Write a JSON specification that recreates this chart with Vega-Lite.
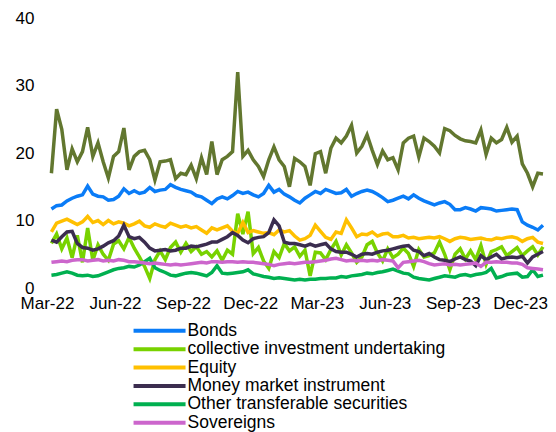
{
"$schema": "https://vega.github.io/schema/vega-lite/v6.json",
"width": 496, "height": 270,
"autosize": {"type": "none"},
"padding": {"left": 47, "top": 18, "right": 13, "bottom": 144},
"background": "white",
"config": {"view": {"stroke": null}, "font": "Liberation Sans"},
"datasets": {
"olive": [{"d":"2022-03-07","v":17.0},{"d":"2022-03-14","v":26.5},{"d":"2022-03-21","v":23.5},{"d":"2022-03-28","v":17.5},{"d":"2022-04-04","v":20.6},{"d":"2022-04-11","v":18.7},{"d":"2022-04-18","v":20.2},{"d":"2022-04-25","v":23.8},{"d":"2022-05-02","v":19.5},{"d":"2022-05-09","v":21.5},{"d":"2022-05-16","v":18.7},{"d":"2022-05-23","v":16.3},{"d":"2022-05-30","v":19.5},{"d":"2022-06-06","v":20.2},{"d":"2022-06-13","v":23.7},{"d":"2022-06-20","v":17.5},{"d":"2022-06-27","v":19.5},{"d":"2022-07-04","v":20.2},{"d":"2022-07-11","v":20.4},{"d":"2022-07-18","v":19.0},{"d":"2022-07-25","v":16.0},{"d":"2022-08-01","v":18.7},{"d":"2022-08-08","v":18.8},{"d":"2022-08-15","v":19.0},{"d":"2022-08-22","v":16.2},{"d":"2022-08-29","v":17.0},{"d":"2022-09-05","v":16.8},{"d":"2022-09-12","v":18.2},{"d":"2022-09-19","v":16.2},{"d":"2022-09-26","v":19.3},{"d":"2022-10-03","v":16.8},{"d":"2022-10-10","v":21.7},{"d":"2022-10-17","v":16.8},{"d":"2022-10-24","v":19.0},{"d":"2022-10-31","v":19.5},{"d":"2022-11-07","v":20.2},{"d":"2022-11-14","v":32.0},{"d":"2022-11-21","v":19.5},{"d":"2022-11-28","v":20.4},{"d":"2022-12-05","v":19.0},{"d":"2022-12-12","v":18.0},{"d":"2022-12-19","v":16.5},{"d":"2022-12-26","v":19.0},{"d":"2023-01-02","v":20.9},{"d":"2023-01-09","v":19.0},{"d":"2023-01-16","v":18.0},{"d":"2023-01-23","v":15.0},{"d":"2023-01-30","v":19.2},{"d":"2023-02-06","v":18.7},{"d":"2023-02-13","v":18.0},{"d":"2023-02-20","v":15.2},{"d":"2023-02-27","v":19.9},{"d":"2023-03-06","v":20.2},{"d":"2023-03-13","v":17.0},{"d":"2023-03-20","v":20.7},{"d":"2023-03-27","v":22.2},{"d":"2023-04-03","v":21.5},{"d":"2023-04-10","v":22.5},{"d":"2023-04-17","v":24.1},{"d":"2023-04-24","v":20.0},{"d":"2023-05-01","v":21.0},{"d":"2023-05-08","v":22.7},{"d":"2023-05-15","v":20.4},{"d":"2023-05-22","v":18.3},{"d":"2023-05-29","v":20.3},{"d":"2023-06-05","v":19.0},{"d":"2023-06-12","v":19.3},{"d":"2023-06-19","v":17.5},{"d":"2023-06-26","v":21.5},{"d":"2023-07-03","v":22.2},{"d":"2023-07-10","v":22.5},{"d":"2023-07-17","v":19.4},{"d":"2023-07-24","v":22.2},{"d":"2023-07-31","v":21.7},{"d":"2023-08-07","v":21.0},{"d":"2023-08-14","v":20.0},{"d":"2023-08-21","v":23.6},{"d":"2023-08-28","v":23.3},{"d":"2023-09-04","v":22.6},{"d":"2023-09-11","v":22.1},{"d":"2023-09-18","v":21.8},{"d":"2023-09-25","v":21.7},{"d":"2023-10-02","v":21.5},{"d":"2023-10-09","v":23.4},{"d":"2023-10-16","v":19.8},{"d":"2023-10-23","v":22.2},{"d":"2023-10-30","v":21.5},{"d":"2023-11-06","v":22.0},{"d":"2023-11-13","v":23.8},{"d":"2023-11-20","v":21.6},{"d":"2023-11-27","v":22.5},{"d":"2023-12-04","v":18.4},{"d":"2023-12-11","v":17.0},{"d":"2023-12-18","v":15.0},{"d":"2023-12-25","v":17.0},{"d":"2024-01-01","v":16.9}],
"bonds": [{"d":"2022-03-07","v":11.7},{"d":"2022-03-14","v":12.2},{"d":"2022-03-21","v":12.3},{"d":"2022-03-28","v":12.9},{"d":"2022-04-04","v":13.3},{"d":"2022-04-11","v":13.6},{"d":"2022-04-18","v":13.8},{"d":"2022-04-25","v":15.1},{"d":"2022-05-02","v":13.9},{"d":"2022-05-09","v":13.6},{"d":"2022-05-16","v":13.5},{"d":"2022-05-23","v":13.0},{"d":"2022-05-30","v":13.1},{"d":"2022-06-06","v":13.6},{"d":"2022-06-13","v":14.7},{"d":"2022-06-20","v":14.0},{"d":"2022-06-27","v":14.4},{"d":"2022-07-04","v":14.0},{"d":"2022-07-11","v":14.2},{"d":"2022-07-18","v":14.9},{"d":"2022-07-25","v":14.3},{"d":"2022-08-01","v":14.5},{"d":"2022-08-08","v":14.6},{"d":"2022-08-15","v":15.3},{"d":"2022-08-22","v":14.9},{"d":"2022-08-29","v":14.6},{"d":"2022-09-05","v":14.4},{"d":"2022-09-12","v":14.2},{"d":"2022-09-19","v":13.7},{"d":"2022-09-26","v":13.5},{"d":"2022-10-03","v":13.0},{"d":"2022-10-10","v":12.5},{"d":"2022-10-17","v":13.2},{"d":"2022-10-24","v":13.5},{"d":"2022-10-31","v":13.2},{"d":"2022-11-07","v":13.7},{"d":"2022-11-14","v":14.3},{"d":"2022-11-21","v":14.0},{"d":"2022-11-28","v":14.2},{"d":"2022-12-05","v":13.8},{"d":"2022-12-12","v":13.5},{"d":"2022-12-19","v":14.0},{"d":"2022-12-26","v":15.2},{"d":"2023-01-02","v":14.2},{"d":"2023-01-09","v":14.6},{"d":"2023-01-16","v":13.9},{"d":"2023-01-23","v":13.5},{"d":"2023-01-30","v":13.0},{"d":"2023-02-06","v":12.6},{"d":"2023-02-13","v":13.3},{"d":"2023-02-20","v":13.8},{"d":"2023-02-27","v":14.3},{"d":"2023-03-06","v":14.0},{"d":"2023-03-13","v":14.6},{"d":"2023-03-20","v":14.3},{"d":"2023-03-27","v":14.0},{"d":"2023-04-03","v":14.1},{"d":"2023-04-10","v":14.6},{"d":"2023-04-17","v":13.6},{"d":"2023-04-24","v":14.0},{"d":"2023-05-01","v":14.3},{"d":"2023-05-08","v":14.5},{"d":"2023-05-15","v":14.3},{"d":"2023-05-22","v":13.9},{"d":"2023-05-29","v":13.4},{"d":"2023-06-05","v":12.8},{"d":"2023-06-12","v":13.0},{"d":"2023-06-19","v":13.3},{"d":"2023-06-26","v":13.6},{"d":"2023-07-03","v":13.2},{"d":"2023-07-10","v":13.8},{"d":"2023-07-17","v":13.3},{"d":"2023-07-24","v":12.9},{"d":"2023-07-31","v":12.6},{"d":"2023-08-07","v":12.3},{"d":"2023-08-14","v":12.6},{"d":"2023-08-21","v":12.8},{"d":"2023-08-28","v":12.4},{"d":"2023-09-04","v":11.6},{"d":"2023-09-11","v":11.6},{"d":"2023-09-18","v":11.9},{"d":"2023-09-25","v":11.7},{"d":"2023-10-02","v":11.4},{"d":"2023-10-09","v":11.9},{"d":"2023-10-16","v":11.8},{"d":"2023-10-23","v":11.7},{"d":"2023-10-30","v":11.4},{"d":"2023-11-06","v":11.5},{"d":"2023-11-13","v":11.6},{"d":"2023-11-20","v":11.7},{"d":"2023-11-27","v":11.6},{"d":"2023-12-04","v":9.8},{"d":"2023-12-11","v":9.3},{"d":"2023-12-18","v":9.0},{"d":"2023-12-25","v":8.6},{"d":"2024-01-01","v":9.3}],
"ciu": [{"d":"2022-03-07","v":6.6},{"d":"2022-03-14","v":8.0},{"d":"2022-03-21","v":5.8},{"d":"2022-03-28","v":7.4},{"d":"2022-04-04","v":4.5},{"d":"2022-04-11","v":7.8},{"d":"2022-04-18","v":3.8},{"d":"2022-04-25","v":8.9},{"d":"2022-05-02","v":4.1},{"d":"2022-05-09","v":6.4},{"d":"2022-05-16","v":5.0},{"d":"2022-05-23","v":4.1},{"d":"2022-05-30","v":6.5},{"d":"2022-06-06","v":7.0},{"d":"2022-06-13","v":5.8},{"d":"2022-06-20","v":7.5},{"d":"2022-06-27","v":5.9},{"d":"2022-07-04","v":4.6},{"d":"2022-07-11","v":3.2},{"d":"2022-07-18","v":1.4},{"d":"2022-07-25","v":4.2},{"d":"2022-08-01","v":5.5},{"d":"2022-08-08","v":4.2},{"d":"2022-08-15","v":6.0},{"d":"2022-08-22","v":6.8},{"d":"2022-08-29","v":5.3},{"d":"2022-09-05","v":6.6},{"d":"2022-09-12","v":5.4},{"d":"2022-09-19","v":6.1},{"d":"2022-09-26","v":5.0},{"d":"2022-10-03","v":5.4},{"d":"2022-10-10","v":4.6},{"d":"2022-10-17","v":5.5},{"d":"2022-10-24","v":4.1},{"d":"2022-10-31","v":5.6},{"d":"2022-11-07","v":5.0},{"d":"2022-11-14","v":11.0},{"d":"2022-11-21","v":8.0},{"d":"2022-11-28","v":11.3},{"d":"2022-12-05","v":5.1},{"d":"2022-12-12","v":6.0},{"d":"2022-12-19","v":4.0},{"d":"2022-12-26","v":2.9},{"d":"2023-01-02","v":5.4},{"d":"2023-01-09","v":4.5},{"d":"2023-01-16","v":6.6},{"d":"2023-01-23","v":5.5},{"d":"2023-01-30","v":6.1},{"d":"2023-02-06","v":4.7},{"d":"2023-02-13","v":5.6},{"d":"2023-02-20","v":1.8},{"d":"2023-02-27","v":5.3},{"d":"2023-03-06","v":5.2},{"d":"2023-03-13","v":4.2},{"d":"2023-03-20","v":5.7},{"d":"2023-03-27","v":6.9},{"d":"2023-04-03","v":4.9},{"d":"2023-04-10","v":6.4},{"d":"2023-04-17","v":5.2},{"d":"2023-04-24","v":3.8},{"d":"2023-05-01","v":4.6},{"d":"2023-05-08","v":6.4},{"d":"2023-05-15","v":6.9},{"d":"2023-05-22","v":5.2},{"d":"2023-05-29","v":4.0},{"d":"2023-06-05","v":5.8},{"d":"2023-06-12","v":4.5},{"d":"2023-06-19","v":5.0},{"d":"2023-06-26","v":5.9},{"d":"2023-07-03","v":5.1},{"d":"2023-07-10","v":3.2},{"d":"2023-07-17","v":5.7},{"d":"2023-07-24","v":4.6},{"d":"2023-07-31","v":4.8},{"d":"2023-08-07","v":5.2},{"d":"2023-08-14","v":6.8},{"d":"2023-08-21","v":5.0},{"d":"2023-08-28","v":2.7},{"d":"2023-09-04","v":5.0},{"d":"2023-09-11","v":5.8},{"d":"2023-09-18","v":4.3},{"d":"2023-09-25","v":5.5},{"d":"2023-10-02","v":4.2},{"d":"2023-10-09","v":6.3},{"d":"2023-10-16","v":3.5},{"d":"2023-10-23","v":5.4},{"d":"2023-10-30","v":5.7},{"d":"2023-11-06","v":6.1},{"d":"2023-11-13","v":4.8},{"d":"2023-11-20","v":5.4},{"d":"2023-11-27","v":6.0},{"d":"2023-12-04","v":4.8},{"d":"2023-12-11","v":5.5},{"d":"2023-12-18","v":6.1},{"d":"2023-12-25","v":4.9},{"d":"2024-01-01","v":6.1}],
"equity": [{"d":"2022-03-07","v":8.3},{"d":"2022-03-14","v":9.6},{"d":"2022-03-21","v":9.9},{"d":"2022-03-28","v":10.2},{"d":"2022-04-04","v":9.8},{"d":"2022-04-11","v":9.4},{"d":"2022-04-18","v":9.8},{"d":"2022-04-25","v":10.6},{"d":"2022-05-02","v":9.7},{"d":"2022-05-09","v":10.0},{"d":"2022-05-16","v":9.4},{"d":"2022-05-23","v":10.0},{"d":"2022-05-30","v":9.5},{"d":"2022-06-06","v":9.8},{"d":"2022-06-13","v":9.6},{"d":"2022-06-20","v":9.2},{"d":"2022-06-27","v":9.5},{"d":"2022-07-04","v":9.9},{"d":"2022-07-11","v":9.2},{"d":"2022-07-18","v":9.0},{"d":"2022-07-25","v":9.5},{"d":"2022-08-01","v":9.2},{"d":"2022-08-08","v":9.0},{"d":"2022-08-15","v":9.6},{"d":"2022-08-22","v":9.3},{"d":"2022-08-29","v":9.0},{"d":"2022-09-05","v":9.2},{"d":"2022-09-12","v":8.9},{"d":"2022-09-19","v":9.1},{"d":"2022-09-26","v":8.6},{"d":"2022-10-03","v":8.1},{"d":"2022-10-10","v":8.9},{"d":"2022-10-17","v":8.6},{"d":"2022-10-24","v":8.9},{"d":"2022-10-31","v":9.2},{"d":"2022-11-07","v":8.4},{"d":"2022-11-14","v":8.1},{"d":"2022-11-21","v":9.7},{"d":"2022-11-28","v":8.2},{"d":"2022-12-05","v":8.5},{"d":"2022-12-12","v":8.3},{"d":"2022-12-19","v":8.1},{"d":"2022-12-26","v":8.2},{"d":"2023-01-02","v":7.9},{"d":"2023-01-09","v":8.6},{"d":"2023-01-16","v":8.3},{"d":"2023-01-23","v":8.5},{"d":"2023-01-30","v":7.7},{"d":"2023-02-06","v":7.1},{"d":"2023-02-13","v":7.3},{"d":"2023-02-20","v":7.8},{"d":"2023-02-27","v":9.3},{"d":"2023-03-06","v":8.4},{"d":"2023-03-13","v":7.5},{"d":"2023-03-20","v":7.2},{"d":"2023-03-27","v":8.3},{"d":"2023-04-03","v":8.1},{"d":"2023-04-10","v":10.1},{"d":"2023-04-17","v":8.9},{"d":"2023-04-24","v":7.6},{"d":"2023-05-01","v":8.0},{"d":"2023-05-08","v":7.9},{"d":"2023-05-15","v":8.3},{"d":"2023-05-22","v":7.7},{"d":"2023-05-29","v":8.0},{"d":"2023-06-05","v":8.1},{"d":"2023-06-12","v":7.6},{"d":"2023-06-19","v":7.6},{"d":"2023-06-26","v":7.8},{"d":"2023-07-03","v":7.4},{"d":"2023-07-10","v":7.5},{"d":"2023-07-17","v":7.3},{"d":"2023-07-24","v":7.4},{"d":"2023-07-31","v":7.5},{"d":"2023-08-07","v":7.4},{"d":"2023-08-14","v":7.6},{"d":"2023-08-21","v":7.3},{"d":"2023-08-28","v":6.9},{"d":"2023-09-04","v":7.3},{"d":"2023-09-11","v":7.5},{"d":"2023-09-18","v":7.4},{"d":"2023-09-25","v":7.2},{"d":"2023-10-02","v":7.3},{"d":"2023-10-09","v":7.4},{"d":"2023-10-16","v":7.2},{"d":"2023-10-23","v":7.1},{"d":"2023-10-30","v":7.4},{"d":"2023-11-06","v":7.3},{"d":"2023-11-13","v":7.5},{"d":"2023-11-20","v":7.6},{"d":"2023-11-27","v":7.4},{"d":"2023-12-04","v":6.9},{"d":"2023-12-11","v":7.3},{"d":"2023-12-18","v":7.5},{"d":"2023-12-25","v":6.8},{"d":"2024-01-01","v":6.6}],
"mmi": [{"d":"2022-03-07","v":7.1},{"d":"2022-03-14","v":6.8},{"d":"2022-03-21","v":7.6},{"d":"2022-03-28","v":8.3},{"d":"2022-04-04","v":8.4},{"d":"2022-04-11","v":6.6},{"d":"2022-04-18","v":6.0},{"d":"2022-04-25","v":5.9},{"d":"2022-05-02","v":5.6},{"d":"2022-05-09","v":5.8},{"d":"2022-05-16","v":6.2},{"d":"2022-05-23","v":6.7},{"d":"2022-05-30","v":7.0},{"d":"2022-06-06","v":7.7},{"d":"2022-06-13","v":9.3},{"d":"2022-06-20","v":7.6},{"d":"2022-06-27","v":7.3},{"d":"2022-07-04","v":7.5},{"d":"2022-07-11","v":6.8},{"d":"2022-07-18","v":5.9},{"d":"2022-07-25","v":5.5},{"d":"2022-08-01","v":5.6},{"d":"2022-08-08","v":5.7},{"d":"2022-08-15","v":5.5},{"d":"2022-08-22","v":5.6},{"d":"2022-08-29","v":5.9},{"d":"2022-09-05","v":5.9},{"d":"2022-09-12","v":6.2},{"d":"2022-09-19","v":6.1},{"d":"2022-09-26","v":6.3},{"d":"2022-10-03","v":6.5},{"d":"2022-10-10","v":6.8},{"d":"2022-10-17","v":6.8},{"d":"2022-10-24","v":7.2},{"d":"2022-10-31","v":7.6},{"d":"2022-11-07","v":8.2},{"d":"2022-11-14","v":7.8},{"d":"2022-11-21","v":7.1},{"d":"2022-11-28","v":6.7},{"d":"2022-12-05","v":7.3},{"d":"2022-12-12","v":7.5},{"d":"2022-12-19","v":7.6},{"d":"2022-12-26","v":8.2},{"d":"2023-01-02","v":10.1},{"d":"2023-01-09","v":9.2},{"d":"2023-01-16","v":6.8},{"d":"2023-01-23","v":6.6},{"d":"2023-01-30","v":6.6},{"d":"2023-02-06","v":6.4},{"d":"2023-02-13","v":6.2},{"d":"2023-02-20","v":6.5},{"d":"2023-02-27","v":6.2},{"d":"2023-03-06","v":6.4},{"d":"2023-03-13","v":6.6},{"d":"2023-03-20","v":5.8},{"d":"2023-03-27","v":5.4},{"d":"2023-04-03","v":5.3},{"d":"2023-04-10","v":5.3},{"d":"2023-04-17","v":5.0},{"d":"2023-04-24","v":4.6},{"d":"2023-05-01","v":5.0},{"d":"2023-05-08","v":5.1},{"d":"2023-05-15","v":5.0},{"d":"2023-05-22","v":5.3},{"d":"2023-05-29","v":5.5},{"d":"2023-06-05","v":5.6},{"d":"2023-06-12","v":5.8},{"d":"2023-06-19","v":6.0},{"d":"2023-06-26","v":6.2},{"d":"2023-07-03","v":6.3},{"d":"2023-07-10","v":5.6},{"d":"2023-07-17","v":5.4},{"d":"2023-07-24","v":4.8},{"d":"2023-07-31","v":5.1},{"d":"2023-08-07","v":4.6},{"d":"2023-08-14","v":4.2},{"d":"2023-08-21","v":4.1},{"d":"2023-08-28","v":3.9},{"d":"2023-09-04","v":4.3},{"d":"2023-09-11","v":4.6},{"d":"2023-09-18","v":4.2},{"d":"2023-09-25","v":4.0},{"d":"2023-10-02","v":3.3},{"d":"2023-10-09","v":4.8},{"d":"2023-10-16","v":4.2},{"d":"2023-10-23","v":4.6},{"d":"2023-10-30","v":5.0},{"d":"2023-11-06","v":4.3},{"d":"2023-11-13","v":4.5},{"d":"2023-11-20","v":4.6},{"d":"2023-11-27","v":4.5},{"d":"2023-12-04","v":4.7},{"d":"2023-12-11","v":3.7},{"d":"2023-12-18","v":4.6},{"d":"2023-12-25","v":5.0},{"d":"2024-01-01","v":5.4}],
"other": [{"d":"2022-03-07","v":1.9},{"d":"2022-03-14","v":2.0},{"d":"2022-03-21","v":2.2},{"d":"2022-03-28","v":2.4},{"d":"2022-04-04","v":2.2},{"d":"2022-04-11","v":1.9},{"d":"2022-04-18","v":1.8},{"d":"2022-04-25","v":1.9},{"d":"2022-05-02","v":1.7},{"d":"2022-05-09","v":1.8},{"d":"2022-05-16","v":2.1},{"d":"2022-05-23","v":2.4},{"d":"2022-05-30","v":2.7},{"d":"2022-06-06","v":2.9},{"d":"2022-06-13","v":3.0},{"d":"2022-06-20","v":3.2},{"d":"2022-06-27","v":3.1},{"d":"2022-07-04","v":3.4},{"d":"2022-07-11","v":3.9},{"d":"2022-07-18","v":4.4},{"d":"2022-07-25","v":3.0},{"d":"2022-08-01","v":2.6},{"d":"2022-08-08","v":2.3},{"d":"2022-08-15","v":1.9},{"d":"2022-08-22","v":1.8},{"d":"2022-08-29","v":2.0},{"d":"2022-09-05","v":2.2},{"d":"2022-09-12","v":2.3},{"d":"2022-09-19","v":2.2},{"d":"2022-09-26","v":2.0},{"d":"2022-10-03","v":1.8},{"d":"2022-10-10","v":2.3},{"d":"2022-10-17","v":3.3},{"d":"2022-10-24","v":2.2},{"d":"2022-10-31","v":2.1},{"d":"2022-11-07","v":2.2},{"d":"2022-11-14","v":2.3},{"d":"2022-11-21","v":2.4},{"d":"2022-11-28","v":2.7},{"d":"2022-12-05","v":2.1},{"d":"2022-12-12","v":1.9},{"d":"2022-12-19","v":1.7},{"d":"2022-12-26","v":1.6},{"d":"2023-01-02","v":1.4},{"d":"2023-01-09","v":1.5},{"d":"2023-01-16","v":1.4},{"d":"2023-01-23","v":1.3},{"d":"2023-01-30","v":1.2},{"d":"2023-02-06","v":1.3},{"d":"2023-02-13","v":1.2},{"d":"2023-02-20","v":1.3},{"d":"2023-02-27","v":1.3},{"d":"2023-03-06","v":1.4},{"d":"2023-03-13","v":1.4},{"d":"2023-03-20","v":1.5},{"d":"2023-03-27","v":1.5},{"d":"2023-04-03","v":1.7},{"d":"2023-04-10","v":1.6},{"d":"2023-04-17","v":1.8},{"d":"2023-04-24","v":1.9},{"d":"2023-05-01","v":2.0},{"d":"2023-05-08","v":2.2},{"d":"2023-05-15","v":2.1},{"d":"2023-05-22","v":2.3},{"d":"2023-05-29","v":2.4},{"d":"2023-06-05","v":2.6},{"d":"2023-06-12","v":2.8},{"d":"2023-06-19","v":2.5},{"d":"2023-06-26","v":2.2},{"d":"2023-07-03","v":2.1},{"d":"2023-07-10","v":1.6},{"d":"2023-07-17","v":1.4},{"d":"2023-07-24","v":1.3},{"d":"2023-07-31","v":1.2},{"d":"2023-08-07","v":1.4},{"d":"2023-08-14","v":1.6},{"d":"2023-08-21","v":1.8},{"d":"2023-08-28","v":1.7},{"d":"2023-09-04","v":1.6},{"d":"2023-09-11","v":1.9},{"d":"2023-09-18","v":2.0},{"d":"2023-09-25","v":1.8},{"d":"2023-10-02","v":2.0},{"d":"2023-10-09","v":2.1},{"d":"2023-10-16","v":2.3},{"d":"2023-10-23","v":2.9},{"d":"2023-10-30","v":1.5},{"d":"2023-11-06","v":1.7},{"d":"2023-11-13","v":2.0},{"d":"2023-11-20","v":2.1},{"d":"2023-11-27","v":2.2},{"d":"2023-12-04","v":1.6},{"d":"2023-12-11","v":1.7},{"d":"2023-12-18","v":2.7},{"d":"2023-12-25","v":1.7},{"d":"2024-01-01","v":1.9}],
"sov": [{"d":"2022-03-07","v":3.8},{"d":"2022-03-14","v":3.9},{"d":"2022-03-21","v":4.0},{"d":"2022-03-28","v":3.9},{"d":"2022-04-04","v":4.1},{"d":"2022-04-11","v":4.2},{"d":"2022-04-18","v":4.2},{"d":"2022-04-25","v":4.0},{"d":"2022-05-02","v":4.1},{"d":"2022-05-09","v":4.2},{"d":"2022-05-16","v":4.0},{"d":"2022-05-23","v":4.1},{"d":"2022-05-30","v":4.0},{"d":"2022-06-06","v":4.2},{"d":"2022-06-13","v":4.1},{"d":"2022-06-20","v":3.9},{"d":"2022-06-27","v":3.9},{"d":"2022-07-04","v":3.8},{"d":"2022-07-11","v":3.7},{"d":"2022-07-18","v":3.6},{"d":"2022-07-25","v":3.7},{"d":"2022-08-01","v":3.6},{"d":"2022-08-08","v":3.5},{"d":"2022-08-15","v":3.4},{"d":"2022-08-22","v":3.5},{"d":"2022-08-29","v":3.4},{"d":"2022-09-05","v":3.5},{"d":"2022-09-12","v":3.6},{"d":"2022-09-19","v":3.7},{"d":"2022-09-26","v":3.8},{"d":"2022-10-03","v":3.7},{"d":"2022-10-10","v":3.9},{"d":"2022-10-17","v":3.9},{"d":"2022-10-24","v":3.8},{"d":"2022-10-31","v":3.9},{"d":"2022-11-07","v":3.9},{"d":"2022-11-14","v":3.8},{"d":"2022-11-21","v":3.9},{"d":"2022-11-28","v":3.8},{"d":"2022-12-05","v":3.8},{"d":"2022-12-12","v":3.7},{"d":"2022-12-19","v":3.6},{"d":"2022-12-26","v":3.5},{"d":"2023-01-02","v":3.3},{"d":"2023-01-09","v":3.5},{"d":"2023-01-16","v":3.6},{"d":"2023-01-23","v":3.7},{"d":"2023-01-30","v":3.6},{"d":"2023-02-06","v":3.7},{"d":"2023-02-13","v":3.8},{"d":"2023-02-20","v":3.8},{"d":"2023-02-27","v":3.9},{"d":"2023-03-06","v":4.0},{"d":"2023-03-13","v":4.1},{"d":"2023-03-20","v":4.3},{"d":"2023-03-27","v":4.4},{"d":"2023-04-03","v":4.2},{"d":"2023-04-10","v":4.0},{"d":"2023-04-17","v":4.1},{"d":"2023-04-24","v":4.0},{"d":"2023-05-01","v":4.1},{"d":"2023-05-08","v":4.0},{"d":"2023-05-15","v":4.1},{"d":"2023-05-22","v":4.0},{"d":"2023-05-29","v":4.2},{"d":"2023-06-05","v":4.1},{"d":"2023-06-12","v":4.0},{"d":"2023-06-19","v":3.0},{"d":"2023-06-26","v":3.8},{"d":"2023-07-03","v":3.9},{"d":"2023-07-10","v":4.0},{"d":"2023-07-17","v":4.1},{"d":"2023-07-24","v":3.9},{"d":"2023-07-31","v":3.6},{"d":"2023-08-07","v":3.4},{"d":"2023-08-14","v":3.5},{"d":"2023-08-21","v":3.6},{"d":"2023-08-28","v":3.4},{"d":"2023-09-04","v":3.5},{"d":"2023-09-11","v":3.4},{"d":"2023-09-18","v":3.5},{"d":"2023-09-25","v":3.6},{"d":"2023-10-02","v":3.7},{"d":"2023-10-09","v":3.2},{"d":"2023-10-16","v":3.8},{"d":"2023-10-23","v":3.8},{"d":"2023-10-30","v":3.9},{"d":"2023-11-06","v":3.8},{"d":"2023-11-13","v":3.8},{"d":"2023-11-20","v":3.7},{"d":"2023-11-27","v":3.7},{"d":"2023-12-04","v":3.5},{"d":"2023-12-11","v":3.0},{"d":"2023-12-18","v":2.9},{"d":"2023-12-25","v":2.8},{"d":"2024-01-01","v":2.7}]
},
"encoding": {
  "x": {"field": "d", "type": "temporal",
    "scale": {"type": "utc", "domain": [{"year": 2022, "month": 3, "date": 1, "utc": true}, {"year": 2024, "month": 1, "date": 1, "utc": true}]},
    "axis": {"title": null, "domain": false, "ticks": false, "tickSize": 0, "grid": false, "labelFlush": false, "labelOverlap": false, "labelBound": false,
      "labelPadding": 7, "labelFontSize": 17, "labelColor": "#000000", "labelFont": "Liberation Sans", "format": "%b-%y",
      "values": [{"year": 2022, "month": 3, "date": 1, "utc": true}, {"year": 2022, "month": 6, "date": 1, "utc": true}, {"year": 2022, "month": 9, "date": 1, "utc": true}, {"year": 2022, "month": 12, "date": 1, "utc": true}, {"year": 2023, "month": 3, "date": 1, "utc": true}, {"year": 2023, "month": 6, "date": 1, "utc": true}, {"year": 2023, "month": 9, "date": 1, "utc": true}, {"year": 2023, "month": 12, "date": 1, "utc": true}]}},
  "y": {"field": "v", "type": "quantitative",
    "scale": {"domain": [0, 40], "nice": false},
    "axis": {"title": null, "domain": false, "ticks": false, "tickSize": 0, "grid": false, "values": [0, 10, 20, 30, 40],
      "labelPadding": 13, "labelFontSize": 17, "labelColor": "#000000", "labelFont": "Liberation Sans"}}
},
"layer": [
  {"data": {"name": "olive"}, "mark": {"type": "line", "strokeWidth": 3.5, "color": "#62772F"}, "encoding": {}},
  {"data": {"name": "bonds"}, "mark": {"type": "line", "strokeWidth": 3.5},
   "encoding": {"color": {"datum": "Bonds", "type": "nominal",
     "scale": {"domain": ["Bonds", "collective investment undertaking", "Equity", "Money market instrument", "Other transferable securities", "Sovereigns"],
               "range": ["#0A7CF7", "#78D200", "#FFC000", "#3B2D4F", "#00B050", "#CC66CC"]},
     "legend": {"title": null, "orient": "none", "legendX": 83, "legendY": 304, "direction": "vertical", "padding": 0,
       "symbolType": "M-1,0H9", "symbolSize": 108.16, "symbolStrokeWidth": 4, "labelFontSize": 17.5, "labelFont": "Liberation Sans", "labelColor": "#000000",
       "labelOffset": 40, "labelLimit": 400, "rowPadding": -0.6}}}},
  {"data": {"name": "ciu"}, "mark": {"type": "line", "strokeWidth": 3.5}, "encoding": {"color": {"datum": "collective investment undertaking", "type": "nominal"}}},
  {"data": {"name": "equity"}, "mark": {"type": "line", "strokeWidth": 3.5}, "encoding": {"color": {"datum": "Equity", "type": "nominal"}}},
  {"data": {"name": "mmi"}, "mark": {"type": "line", "strokeWidth": 3.5}, "encoding": {"color": {"datum": "Money market instrument", "type": "nominal"}}},
  {"data": {"name": "other"}, "mark": {"type": "line", "strokeWidth": 3.5}, "encoding": {"color": {"datum": "Other transferable securities", "type": "nominal"}}},
  {"data": {"name": "sov"}, "mark": {"type": "line", "strokeWidth": 3.5}, "encoding": {"color": {"datum": "Sovereigns", "type": "nominal"}}}
]
}
